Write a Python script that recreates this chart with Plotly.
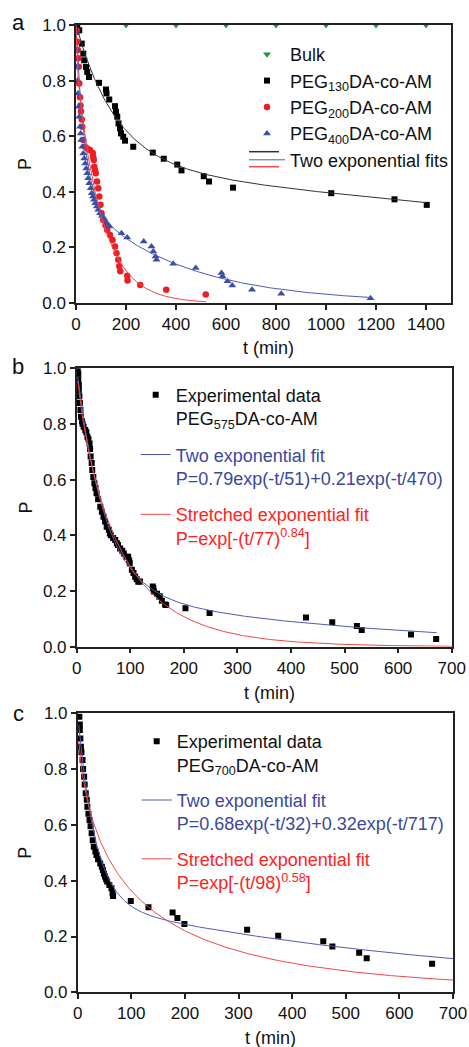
import numpy as np
import plotly.graph_objects as go

W, H = 469, 1047
FONT = "Liberation Sans, Arial, sans-serif"

# ---------------- panel a: P(t) for PEG-DA-co-AM gels ----------------
bulk_t = [0, 200, 400, 600, 800, 1000, 1200, 1400]
bulk_p = [1.0, 1.0, 1.0, 1.0, 1.0, 1.0, 1.0, 1.0]

peg130_t = [5, 13, 23, 29, 33, 40, 45, 52, 92, 120, 122, 133, 156, 160, 165, 170,
            176, 180, 189, 196, 229, 307, 351, 405, 422, 511, 532, 628, 1021, 1274, 1403]
peg130_p = [0.99, 0.981, 0.933, 0.897, 0.873, 0.849, 0.831, 0.813, 0.792, 0.768, 0.754,
            0.732, 0.708, 0.688, 0.670, 0.646, 0.628, 0.610, 0.598, 0.584, 0.562, 0.541,
            0.519, 0.498, 0.477, 0.456, 0.437, 0.415, 0.395, 0.373, 0.353]

peg200_t = [3, 5, 7, 9, 11, 13, 16, 18, 20, 23, 25, 29, 36, 45, 56, 67, 69, 71, 73, 76,
            79, 84, 89, 93, 98, 102, 109, 118, 125, 136, 146, 156, 162, 169, 173, 177,
            205, 206, 257, 361, 519]
peg200_p = [0.98, 0.94, 0.91, 0.88, 0.85, 0.79, 0.74, 0.71, 0.69, 0.66, 0.634, 0.586,
            0.562, 0.556, 0.55, 0.54, 0.525, 0.514, 0.49, 0.478, 0.467, 0.437, 0.413,
            0.383, 0.353, 0.323, 0.299, 0.28, 0.263, 0.245, 0.227, 0.203, 0.179, 0.156,
            0.132, 0.114, 0.098, 0.081, 0.065, 0.048, 0.031]

peg400_t = [1, 3, 4, 7, 8, 11, 13, 16, 19, 21, 25, 29, 33, 37, 41, 45, 49, 53, 59, 63,
            68, 72, 77, 83, 89, 96, 104, 112, 122, 133, 182, 205, 271, 302, 309, 318,
            322, 389, 479, 582, 586, 606, 625, 704, 821, 1178]
peg400_p = [0.97, 0.91, 0.85, 0.80, 0.754, 0.706, 0.67, 0.634, 0.61, 0.586, 0.562,
            0.538, 0.52, 0.502, 0.484, 0.467, 0.449, 0.431, 0.413, 0.395, 0.383, 0.371,
            0.359, 0.347, 0.335, 0.323, 0.313, 0.305, 0.289, 0.275, 0.251, 0.236, 0.221,
            0.203, 0.185, 0.167, 0.156, 0.141, 0.126, 0.108, 0.096, 0.078, 0.063, 0.048,
            0.033, 0.017]

# two-exponential fits: (A1, tau1, A2, tau2, t_end)
fit130 = (0.50, 160.0, 0.50, 4300.0, 1400.0)
fit200 = (0.14, 5.0, 0.86, 100.0, 520.0)
fit400 = (0.62, 35.0, 0.38, 400.0, 1180.0)

# ---------------- panel b: PEG575DA-co-AM ----------------
peg575_t = [2, 3, 3, 4, 4, 5, 6, 7, 8, 10, 11, 13, 16, 18, 20, 22, 24, 25, 26, 28, 29,
            31, 33, 35, 37, 40, 44, 47, 50, 53, 56, 60, 62, 64, 68, 72, 75, 77, 81, 85,
            88, 93, 96, 98, 99, 103, 106, 109, 112, 115, 118, 142, 143, 144, 150, 154,
            155, 159, 165, 167, 203, 248, 428, 477, 523, 532, 624, 671]
peg575_p = [1.0, 0.98, 0.96, 0.94, 0.92, 0.90, 0.875, 0.85, 0.826, 0.81, 0.80, 0.79,
            0.778, 0.77, 0.754, 0.745, 0.73, 0.71, 0.683, 0.66, 0.635, 0.61, 0.587,
            0.57, 0.551, 0.53, 0.503, 0.485, 0.467, 0.45, 0.431, 0.42, 0.407, 0.40,
            0.39, 0.383, 0.372, 0.365, 0.353, 0.345, 0.335, 0.323, 0.323, 0.31, 0.30,
            0.276, 0.265, 0.251, 0.242, 0.233, 0.234, 0.216, 0.21, 0.198, 0.19, 0.18,
            0.18, 0.165, 0.152, 0.15, 0.138, 0.121, 0.105, 0.088, 0.074, 0.060, 0.044,
            0.028]
# P = a1*exp(-t/t1) + a2*exp(-t/t2)
twoexp_b = (0.79, 51.0, 0.21, 470.0)
# P = exp[-(t/tau)^beta]
stretch_b = (77.0, 0.84)

# ---------------- panel c: PEG700DA-co-AM ----------------
peg700_t = [3, 4, 4, 5, 6, 7, 9, 10, 12, 13, 15, 17, 18, 20, 22, 24, 26, 28, 30, 33,
            35, 38, 42, 45, 47, 49, 51, 53, 55, 59, 63, 65, 66, 99, 132, 177, 186, 199,
            316, 374, 458, 475, 525, 539, 661]
peg700_p = [0.988, 0.96, 0.94, 0.91, 0.88, 0.86, 0.833, 0.80, 0.773, 0.745, 0.713,
            0.69, 0.665, 0.64, 0.618, 0.595, 0.57, 0.545, 0.522, 0.505, 0.492, 0.477,
            0.462, 0.45, 0.438, 0.425, 0.415, 0.405, 0.397, 0.385, 0.373, 0.355, 0.345,
            0.327, 0.305, 0.286, 0.266, 0.245, 0.224, 0.203, 0.183, 0.164, 0.142, 0.122,
            0.102]
twoexp_c = (0.68, 32.0, 0.32, 717.0)
stretch_c = (98.0, 0.58)

# ---------------- styling ----------------
C_BLACK = "#000000"
C_RED = "#ee1c24"
C_BLUE = "#3a4fa8"
C_GREEN = "#1e9640"
C_FIT_BLACK = "#333333"
C_FIT_BLUE = "#4f5cb3"
C_FIT_RED = "#f04848"
C_TXT_BLUE = "#3a48a0"
C_TXT_RED = "#ff2222"


def two_exp(t, a1, t1, a2, t2):
    return a1 * np.exp(-t / t1) + a2 * np.exp(-t / t2)


def stretched(t, tau, beta):
    return np.exp(-(t / tau) ** beta)


fig = go.Figure()

# panel a
fig.add_trace(go.Scatter(x=bulk_t, y=bulk_p, mode="markers", name="Bulk",
                         marker=dict(symbol="triangle-down", size=7, color=C_GREEN),
                         xaxis="x", yaxis="y", legend="legend"))
fig.add_trace(go.Scatter(x=peg130_t, y=peg130_p, mode="markers",
                         name="PEG<sub>130</sub>DA-co-AM",
                         marker=dict(symbol="square", size=6, color=C_BLACK),
                         xaxis="x", yaxis="y", legend="legend"))
fig.add_trace(go.Scatter(x=peg200_t, y=peg200_p, mode="markers",
                         name="PEG<sub>200</sub>DA-co-AM",
                         marker=dict(symbol="circle", size=6.5, color=C_RED),
                         xaxis="x", yaxis="y", legend="legend"))
fig.add_trace(go.Scatter(x=peg400_t, y=peg400_p, mode="markers",
                         name="PEG<sub>400</sub>DA-co-AM",
                         marker=dict(symbol="triangle-up", size=7, color=C_BLUE),
                         xaxis="x", yaxis="y", legend="legend"))

for params, col, show in [(fit130, C_FIT_BLACK, False), (fit400, C_FIT_BLUE, True),
                          (fit200, C_FIT_RED, False)]:
    a1, t1, a2, t2, tend = params
    tt = np.linspace(0, tend, 400)
    fig.add_trace(go.Scatter(x=tt, y=two_exp(tt, a1, t1, a2, t2), mode="lines",
                             name="Two exponential fits", showlegend=show,
                             line=dict(color=col, width=1),
                             xaxis="x", yaxis="y", legend="legend"))

# panels b and c
panels = [
    ("x2", "y2", "legend2", peg575_t, peg575_p, "575", twoexp_b, stretch_b, 672.0),
    ("x3", "y3", "legend3", peg700_t, peg700_p, "700", twoexp_c, stretch_c, 700.0),
]
for xa, ya, lg, tdat, pdat, mw, te, se, tend in panels:
    fig.add_trace(go.Scatter(x=tdat, y=pdat, mode="markers",
                             name=f"Experimental data<br>PEG<sub>{mw}</sub>DA-co-AM",
                             legendgroup=f"{lg}a",
                             marker=dict(symbol="square", size=6, color=C_BLACK),
                             xaxis=xa, yaxis=ya, legend=lg))
    a1, t1, a2, t2 = te
    tt = np.linspace(2, tend, 500)
    lab = (f'<span style="color:{C_TXT_BLUE}">Two exponential fit</span><br>'
           f'<span style="color:{C_TXT_BLUE}">P={a1:.2f}exp(-t/{t1:.0f})+{a2:.2f}exp(-t/{t2:.0f})</span>')
    fig.add_trace(go.Scatter(x=tt, y=two_exp(tt, a1, t1, a2, t2), mode="lines",
                             name=lab, legendgroup=f"{lg}b",
                             line=dict(color=C_FIT_BLUE, width=1),
                             xaxis=xa, yaxis=ya, legend=lg))
    tau, beta = se
    ts = np.linspace(2, 700, 500)
    lab = (f'<span style="color:{C_TXT_RED}">Stretched exponential fit</span><br>'
           f'<span style="color:{C_TXT_RED}">P=exp[-(t/{tau:.0f})<sup>{beta:.2f}</sup>]</span>')
    fig.add_trace(go.Scatter(x=ts, y=stretched(ts, tau, beta), mode="lines",
                             name=lab, legendgroup=f"{lg}c",
                             line=dict(color=C_FIT_RED, width=1),
                             xaxis=xa, yaxis=ya, legend=lg))


def px_x(p):
    return p / W


def px_y(p):
    return 1 - p / H


axis_common = dict(showline=True, linecolor="#222222", linewidth=1.5, mirror=True,
                   ticks="outside", ticklen=5, tickwidth=1.5, tickcolor="#222222",
                   showgrid=False, zeroline=False, automargin=False,
                   tickfont=dict(family=FONT, size=17, color="#111111"))

# plot areas in pixels: (left, right, top, bottom)
areas = [(76, 451, 25, 303), (76.7, 451.7, 368.3, 646.7), (77.7, 453, 713.3, 992.3)]
xranges = [[0, 1500], [0, 700], [0, 700]]
dticks = [200, 100, 100]

layout = dict(width=W, height=H, margin=dict(l=0, r=0, t=0, b=0, autoexpand=False),
              paper_bgcolor="white", plot_bgcolor="white",
              font=dict(family=FONT, size=18, color="#111111"))
for i, ((l, r, t, b), xr, dt) in enumerate(zip(areas, xranges, dticks)):
    sfx = "" if i == 0 else str(i + 1)
    layout["xaxis" + sfx] = dict(axis_common, domain=[px_x(l), px_x(r)], range=xr,
                                 dtick=dt, tick0=0, anchor="y" + sfx)
    layout["yaxis" + sfx] = dict(axis_common, domain=[px_y(b), px_y(t)], range=[0, 1.0],
                                 dtick=0.2, tick0=0, tickformat=".1f", anchor="x" + sfx)

legend_common = dict(bgcolor="rgba(0,0,0,0)", borderwidth=0, xanchor="left",
                     yanchor="top", font=dict(family=FONT, size=18, color="#111111"))
layout["legend"] = dict(legend_common, x=px_x(244), y=px_y(36), itemwidth=36,
                        tracegroupgap=0)
layout["legend2"] = dict(legend_common, x=px_x(135.7), y=px_y(376.5), valign="top",
                         traceorder="grouped", tracegroupgap=10)
layout["legend3"] = dict(legend_common, x=px_x(136.7), y=px_y(723), valign="top",
                         traceorder="grouped", tracegroupgap=9)
fig.update_layout(**layout)

# extra key lines for the three fit colours in panel a's legend
for yy, col in [(151.7, C_FIT_BLACK), (166.7, C_FIT_RED)]:
    fig.add_shape(type="line", xref="paper", yref="paper",
                  x0=px_x(249), x1=px_x(279), y0=px_y(yy), y1=px_y(yy),
                  line=dict(color=col, width=1.5))

# panel letters and axis titles
ann = []
for letter, yc in [("a", 22.7), ("b", 366.7), ("c", 713)]:
    ann.append(dict(text=letter, x=px_x(18), y=px_y(yc), xref="paper", yref="paper",
                    showarrow=False, font=dict(family=FONT, size=22, color="#111111"),
                    xanchor="center", yanchor="middle"))
for (l, r, t, b), ty in zip(areas, [348, 692.7, 1038.3]):
    ann.append(dict(text="t (min)", x=px_x((l + r) / 2 + 5), y=px_y(ty), xref="paper",
                    yref="paper", showarrow=False, xanchor="center", yanchor="middle",
                    font=dict(family=FONT, size=18, color="#111111")))
    ann.append(dict(text="P", x=px_x(25), y=px_y((t + b) / 2), xref="paper",
                    yref="paper", showarrow=False, textangle=-90, xanchor="center",
                    yanchor="middle", font=dict(family=FONT, size=18, color="#111111")))
fig.update_layout(annotations=ann)

fig.write_html("out.html")
